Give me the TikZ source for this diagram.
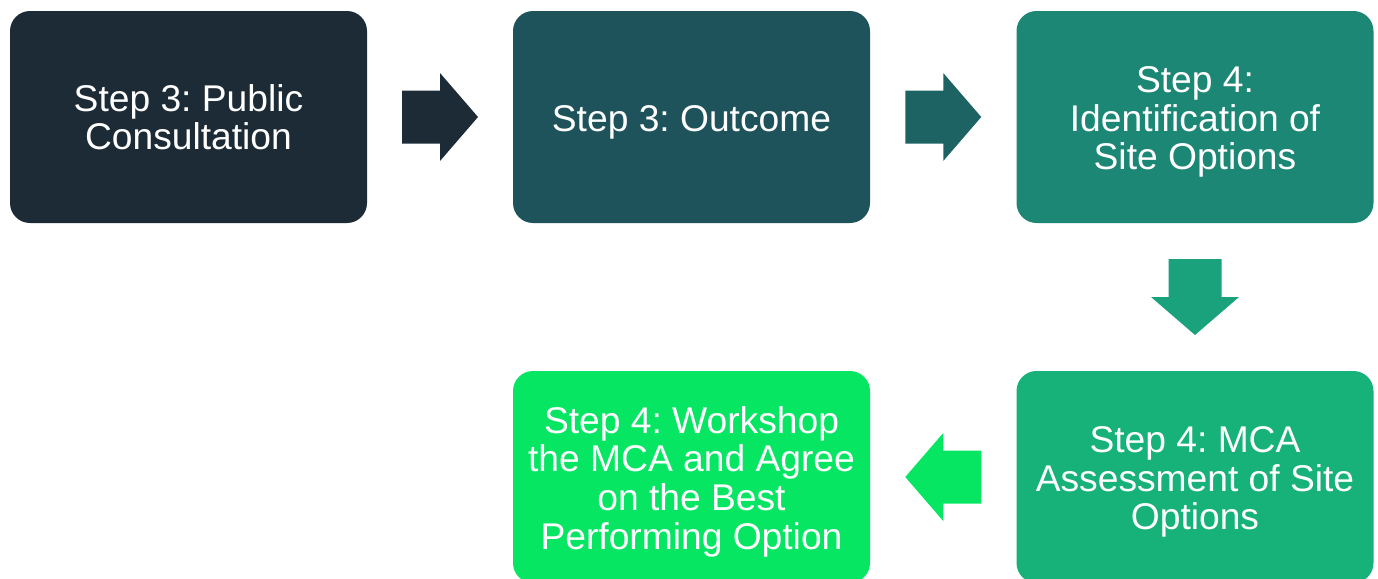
\documentclass[tikz,border=0pt]{standalone}
\usepackage{fontspec}
\setmainfont{Liberation Sans}
\usetikzlibrary{calc}
\frenchspacing
\definecolor{cA}{HTML}{1C2B36}
\definecolor{cB}{HTML}{1E535B}
\definecolor{cBarrow}{HTML}{1D6363}
\definecolor{cC}{HTML}{1C8775}
\definecolor{cCarrow}{HTML}{19A27C}
\definecolor{cD}{HTML}{16B27A}
\definecolor{cE}{HTML}{07E662}
% invisible strut that evens out the height of a first line
\newcommand{\stepstrut}{\rule{0pt}{18pt}}
\tikzset{
  stepbox/.style={rectangle, rounded corners=10pt, minimum width=178.5pt,
    minimum height=106pt, inner sep=0pt, text=white, align=center,
    font=\fontsize{18.6pt}{19.3pt}\selectfont},
  blockarrow/.pic={
    \fill[pic actions] (-38,-26.5) -- (0,-26.5) -- (0,-44) -- (38,0)
      -- (0,44) -- (0,26.5) -- (-38,26.5) -- cycle;
  }
}
\begin{document}
\begin{tikzpicture}[x=0.5pt, y=-0.5pt]
\useasboundingbox (0,0) rectangle (1378,579);
\clip (0,0) rectangle (1378,579);
% process steps
\node[stepbox, fill=cA] (b1) at (188.5,117) {Step 3: Public\\Consultation};
\node[stepbox, fill=cB] (b2) at (691.5,117) {\stepstrut Step 3: Outcome};
\node[stepbox, fill=cC] (b3) at (1195,117) {\stepstrut Step 4:\\Identification of\\Site Options};
\node[stepbox, fill=cD] (b4) at (1195,477) {\stepstrut Step 4: MCA\\Assessment of Site\\Options};
\node[stepbox, fill=cE] (b5) at (691.5,477) {\stepstrut Step 4: Workshop\\the MCA and Agree\\on the Best\\Performing Option};
% block arrows between steps
\coordinate (a1) at ($(b1.east)!0.5!(b2.west)$);
\coordinate (a2) at ($(b2.east)!0.5!(b3.west)$);
\coordinate (a3) at ($(b3.south)!0.5!(b4.north)$);
\coordinate (a4) at ($(b5.east)!0.5!(b4.west)$);
\pic[fill=cA] at (a1) {blockarrow};
\pic[fill=cBarrow] at (a2) {blockarrow};
\pic[fill=cCarrow, rotate=-90] at (a3) {blockarrow};
\pic[fill=cE, rotate=180] at (a4) {blockarrow};
\end{tikzpicture}
\end{document}
